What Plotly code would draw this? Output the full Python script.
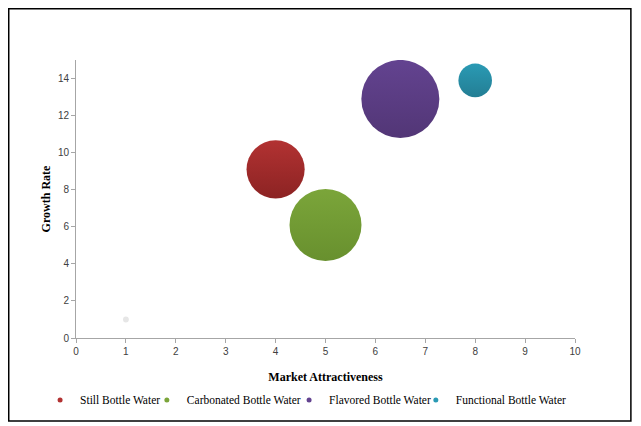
import plotly.graph_objects as go

# bubble data
names = ["Still Bottle Water", "Carbonated Bottle Water",
         "Flavored Bottle Water", "Functional Bottle Water"]
attractiveness = [4.0, 5.0, 6.5, 8.0]
growth = [9.1, 6.1, 12.9, 13.9]
market_size = [30, 46, 54, 10]
colors = ["#B23232", "#7BA53A", "#634390", "#2A9AB4"]
shade = ["#8C2323", "#68902E", "#523676", "#237E94"]

# faint stray point near the origin
stray_x = [1]
stray_y = [1]
stray_size = [0.3]

# plotly area mode: diameter = sqrt(2 * size / sizeref) roughly
sizeref = 2 * 54 / 78 ** 2

# one small legend per entry so they sit like the excel legend
legend_ids = ["legend", "legend2", "legend3", "legend4"]
legend_x = [-0.072, 0.142, 0.427, 0.681]

fig = go.Figure()
for n, x, y, s, c, g, lg in zip(names, attractiveness, growth, market_size,
                                colors, shade, legend_ids):
    fig.add_trace(go.Scatter(
        x=[x], y=[y], name=n, mode="markers", showlegend=False,
        marker=dict(size=[s], sizemode="area", sizeref=sizeref,
                    color=c, opacity=1, line=dict(width=0),
                    gradient=dict(type="vertical", color=g)),
    ))
    # small legend dot
    fig.add_trace(go.Scatter(
        x=[None], y=[None], name=n, mode="markers", legend=lg,
        marker=dict(size=5, color=c),
    ))

fig.add_trace(go.Scatter(
    x=stray_x, y=stray_y, mode="markers", showlegend=False,
    marker=dict(size=stray_size, sizemode="area", sizeref=sizeref,
                color="#e6e6e6", opacity=1, line=dict(width=0)),
))

axis_font = dict(family="Liberation Sans", size=10, color="#404040")
title_font = dict(family="Liberation Serif", size=12, color="#000000")
legend_font = dict(family="Liberation Serif", size=11.5, color="#000000")

legends = {}
for lg, lx in zip(legend_ids, legend_x):
    legends[lg] = dict(
        orientation="h", x=lx, xanchor="left", y=-0.223, yanchor="middle",
        font=legend_font, itemwidth=30, bgcolor="rgba(0,0,0,0)",
    )

fig.update_layout(
    width=633, height=418,
    margin=dict(l=68, r=66, t=52, b=88),
    paper_bgcolor="white", plot_bgcolor="white",
    xaxis=dict(
        range=[0, 10], dtick=1, showgrid=False, zeroline=False,
        showline=True, linecolor="#a6a6a6", linewidth=1,
        ticks="outside", ticklen=4, tickcolor="#a6a6a6",
        tickfont=axis_font, automargin=False,
        title=dict(text="<b>Market Attractiveness</b>", font=title_font,
                   standoff=16),
    ),
    yaxis=dict(
        range=[0, 15], tickvals=[0, 2, 4, 6, 8, 10, 12, 14],
        showgrid=False, zeroline=False,
        showline=True, linecolor="#a6a6a6", linewidth=1,
        ticks="outside", ticklen=4, tickcolor="#a6a6a6",
        tickfont=axis_font, automargin=False,
        title=dict(text="<b>Growth Rate</b>", font=title_font, standoff=4),
    ),
    shapes=[dict(type="rect", xref="paper", yref="paper",
                 x0=-0.1348, x1=1.112, y0=-0.2986, y1=1.1844,
                 line=dict(color="black", width=1.5))],
    **legends,
)

fig.write_html("out.html")
